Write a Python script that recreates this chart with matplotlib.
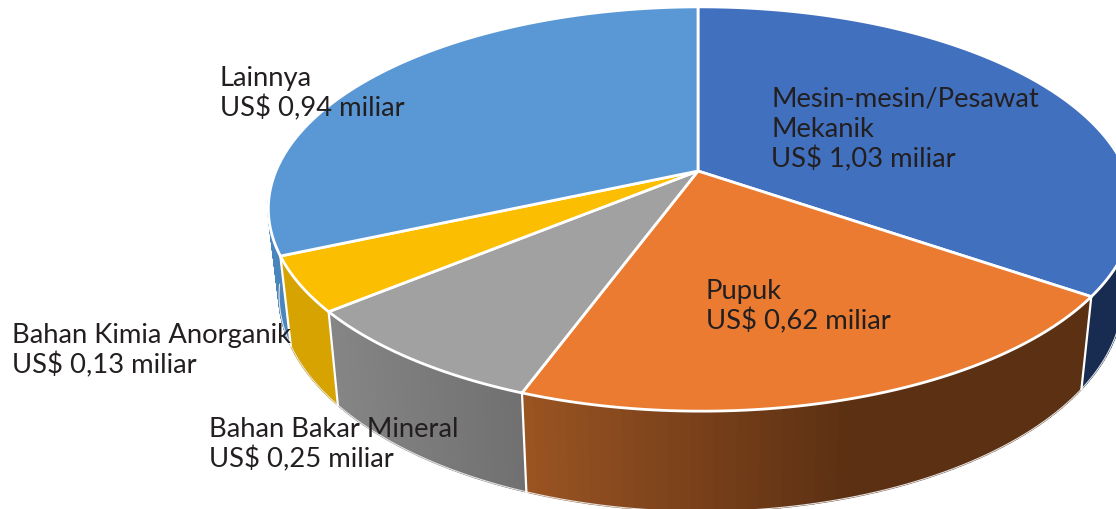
import numpy as np
import matplotlib
matplotlib.use("Agg")
import matplotlib.pyplot as plt
from matplotlib.collections import PolyCollection

categories = ["Mesin-mesin/Pesawat\nMekanik", "Pupuk", "Bahan Bakar Mineral", "Bahan Kimia Anorganik", "Lainnya"]
values = [1.03, 0.62, 0.25, 0.13, 0.94]
top_colors = ["#4170BF", "#EA7B31", "#A1A1A1", "#FBBE00", "#5A98D5"]
wall_left = ["#182C52", "#9C5523", "#868686", "#D6A300", "#4A86BD"]
wall_right = ["#182C52", "#5C3013", "#707070", "#D6A300", "#4A86BD"]
label_x = [771, 706, 209, 12, 220]
label_y = [107, 299, 437, 343, 86]
label_line = 30

W, H = 1116, 510
fig = plt.figure(figsize=(W / 100, H / 100), dpi=100)
ax = fig.add_axes([0, 0, 1, 1])
ax.set_xlim(0, W)
ax.set_ylim(H, 0)
ax.axis("off")


def top(theta):
    u, v = np.sin(theta), np.cos(theta)
    w = 1 + 0.188 * v - 0.007 * u
    return 698 + 425 * u / w, 172 - 195 * v / w


def bottom(theta):
    x, y = top(theta)
    return 698 + (x - 698) * 0.975, y + 92 + 0.0686 * (y - 293)


def hex_rgb(c):
    return np.array(matplotlib.colors.to_rgb(c))


edges = np.radians(np.concatenate([[0], np.cumsum(values)]) / sum(values) * 360)
visible = [(np.radians(80), edges[1]), (edges[1], edges[2]), (edges[2], edges[3]),
           (edges[3], edges[4]), (edges[4], np.radians(262))]
order = [0, 4, 3, 2, 1]

# side walls
for i in order:
    a, b = visible[i]
    t = np.linspace(a, b, 60)
    xt, yt = top(t)
    xb, yb = bottom(t)
    polys, cols = [], []
    cl, cr = hex_rgb(wall_left[i]), hex_rgb(wall_right[i])
    xmin = min(xt.min(), xb.min())
    xmax = 850 if i == 1 else max(xt.max(), xb.max())
    for k in range(len(t) - 1):
        polys.append([(xt[k], yt[k]), (xt[k + 1], yt[k + 1]), (xb[k + 1], yb[k + 1]), (xb[k], yb[k])])
        f = np.clip((0.5 * (xt[k] + xb[k]) - xmin) / (xmax - xmin), 0, 1)
        cols.append(cl * (1 - f) + cr * f)
    ax.add_collection(PolyCollection(polys, facecolors=cols, edgecolors=cols, linewidths=1.2, zorder=2))
    ax.plot(xb, yb, color="#e4e4e4", lw=0.8, zorder=2.5)

# vertical edges between walls
for e in edges[1:5]:
    xt, yt = top(e)
    xb, yb = bottom(e)
    ax.plot([xt, xb], [yt, yb], color="white", lw=1.6, zorder=3)

# top face
for i in range(5):
    t = np.linspace(edges[i], edges[i + 1], 200)
    xt, yt = top(t)
    ax.fill(np.r_[698, xt], np.r_[172, yt], facecolor=top_colors[i], edgecolor="white",
            lw=2, joinstyle="round", zorder=4)

for cat, val, x, y in zip(categories, values, label_x, label_y):
    lines = cat.split("\n") + ["US$ " + f"{val:.2f}".replace(".", ",") + " miliar"]
    for j, line in enumerate(lines):
        ax.text(x, y + j * label_line, line, fontsize=19.7, family="Lato", color="#231F20",
                va="baseline", ha="left", zorder=6)

fig.savefig("out.png", dpi=100)
